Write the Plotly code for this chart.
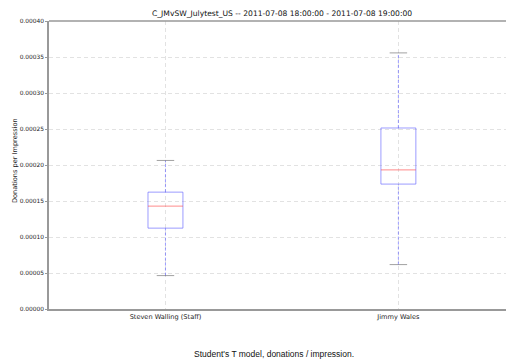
import plotly.graph_objects as go

categories = ["Steven Walling (Staff)", "Jimmy Wales"]
positions = [1, 2]
whisker_low = [0.0000464, 0.0000617]
q1 = [0.0001123, 0.0001735]
median = [0.0001429, 0.0001932]
q3 = [0.0001623, 0.0002514]
whisker_high = [0.0002063, 0.0003557]
y_ticks = [0.0, 0.00005, 0.0001, 0.00015, 0.0002, 0.00025, 0.0003, 0.00035, 0.0004]
y_tick_labels = ["%.5f" % v for v in y_ticks]

title = "C_JMvSW_Julytest_US -- 2011-07-08 18:00:00 - 2011-07-08 19:00:00"
x_title = "Student's T model, donations / impression."
y_title = "Donations per Impression"

BOX_HW = 0.075
CAP_HW = 0.0375
BLUE = "rgba(90,90,255,0.6)"
RED = "rgba(255,60,60,0.6)"
GREY = "rgba(100,100,100,0.6)"

fig = go.Figure()
for i, p in enumerate(positions):
    fig.add_trace(go.Scatter(x=[p, p, None, p, p],
                             y=[whisker_low[i], q1[i], None, q3[i], whisker_high[i]],
                             mode="lines", line=dict(color=BLUE, width=1, dash="3px,2px"),
                             hoverinfo="skip", showlegend=False))
    fig.add_trace(go.Scatter(x=[p - CAP_HW, p + CAP_HW, None, p - CAP_HW, p + CAP_HW],
                             y=[whisker_low[i], whisker_low[i], None, whisker_high[i], whisker_high[i]],
                             mode="lines", line=dict(color=GREY, width=1),
                             hoverinfo="skip", showlegend=False))
    fig.add_trace(go.Scatter(x=[p - BOX_HW, p + BOX_HW, p + BOX_HW, p - BOX_HW, p - BOX_HW],
                             y=[q1[i], q1[i], q3[i], q3[i], q1[i]],
                             mode="lines", line=dict(color=BLUE, width=1),
                             hoverinfo="skip", showlegend=False))
    fig.add_trace(go.Scatter(x=[p - BOX_HW, p + BOX_HW], y=[median[i], median[i]],
                             mode="lines", line=dict(color=RED, width=1),
                             hoverinfo="skip", showlegend=False))

FONT = "DejaVu Sans"
GRID = dict(showgrid=True, gridcolor="#e2e2e2", griddash="4px,3px", gridwidth=1)
fig.update_layout(
    width=506, height=362,
    margin=dict(l=49, r=0, t=21, b=53),
    paper_bgcolor="white", plot_bgcolor="white",
    font=dict(family=FONT, size=7, color="#222"),
    xaxis=dict(range=[0.5, 2.462], tickvals=positions, ticktext=categories,
               showline=True, linecolor="#999", linewidth=1.5, mirror=False,
               ticks="", zeroline=False, tickfont=dict(size=6.6, color="#222"), **GRID),
    yaxis=dict(range=[0, 0.0004], tickvals=y_ticks, ticktext=y_tick_labels,
               showline=True, linecolor="#999", linewidth=1.5, mirror=False,
               ticks="outside", ticklen=2, tickcolor="#999",
               zeroline=False, tickfont=dict(size=5.9, color="#222"), **GRID),
    shapes=[dict(type="line", xref="paper", yref="paper", x0=0, x1=1, y0=1, y1=1,
                 line=dict(color="#999", width=1.5))],
    annotations=[
        dict(text=title, xref="x", yref="paper", x=1.5, y=1, yshift=1,
             xanchor="center", yanchor="bottom", showarrow=False,
             font=dict(size=7.6, color="#111")),
        dict(text=x_title, xref="x", yref="paper", x=1.465, y=0, yshift=-38,
             xanchor="center", yanchor="top", showarrow=False,
             font=dict(family="Liberation Sans", size=8.5, color="#111")),
        dict(text=y_title, xref="paper", yref="paper", x=0, xshift=-34, y=0.5, yshift=4,
             xanchor="center", yanchor="middle", textangle=-90, showarrow=False,
             font=dict(size=6.6, color="#222")),
    ],
)
fig.write_html("out.html", config={"displayModeBar": False},
               post_script="document.body.style.margin='0';document.body.style.padding='0';")
